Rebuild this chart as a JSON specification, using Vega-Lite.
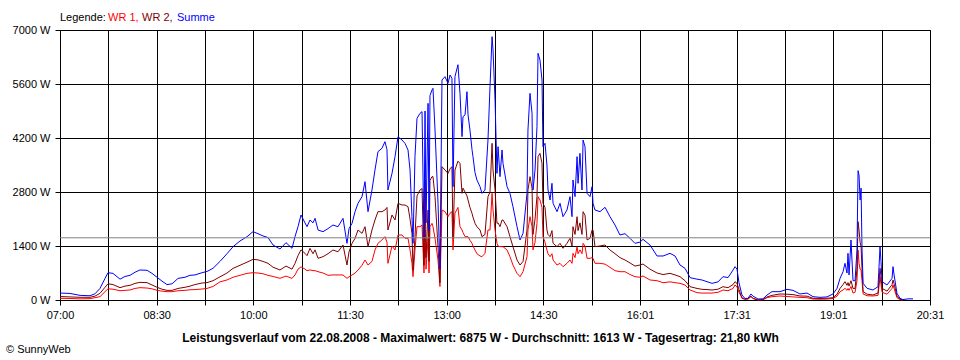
{
  "$schema": "https://vega.github.io/schema/vega-lite/v6.json",
  "width": 870,
  "height": 270,
  "autosize": {"type": "none"},
  "padding": {"left": 60, "top": 30, "right": 30, "bottom": 60},
  "background": "white",
  "config": {
    "view": {"stroke": "black", "strokeWidth": 1},
    "axis": {
      "domainColor": "black",
      "tickColor": "black",
      "gridColor": "black",
      "gridOpacity": 1,
      "gridWidth": 1,
      "labelColor": "black",
      "labelFont": "Liberation Sans",
      "labelFontSize": 11,
      "tickSize": 5,
      "zindex": 1
    },
    "text": {"font": "Liberation Sans", "fontSize": 11}
  },
  "datasets": {
    "power": [
      {"t": 420.0, "wr1": 44, "wr2": 90, "summe": 180},
      {"t": 429.3, "wr1": 40, "wr2": 80, "summe": 170},
      {"t": 438.7, "wr1": 30, "wr2": 70, "summe": 120},
      {"t": 448.0, "wr1": 35, "wr2": 70, "summe": 110},
      {"t": 452.6, "wr1": 60, "wr2": 100, "summe": 160},
      {"t": 457.3, "wr1": 86, "wr2": 173, "summe": 300},
      {"t": 462.0, "wr1": 216, "wr2": 330, "summe": 560},
      {"t": 464.8, "wr1": 290, "wr2": 420, "summe": 708},
      {"t": 469.4, "wr1": 280, "wr2": 400, "summe": 690},
      {"t": 476.0, "wr1": 240, "wr2": 320, "summe": 540},
      {"t": 480.6, "wr1": 250, "wr2": 360, "summe": 610},
      {"t": 485.3, "wr1": 260, "wr2": 380, "summe": 640},
      {"t": 490.0, "wr1": 300, "wr2": 430, "summe": 720},
      {"t": 494.6, "wr1": 320, "wr2": 458, "summe": 778},
      {"t": 501.2, "wr1": 310, "wr2": 450, "summe": 770},
      {"t": 505.8, "wr1": 290, "wr2": 390, "summe": 690},
      {"t": 510.5, "wr1": 250, "wr2": 330, "summe": 590},
      {"t": 515.1, "wr1": 230, "wr2": 280, "summe": 490},
      {"t": 519.8, "wr1": 216, "wr2": 250, "summe": 400},
      {"t": 524.5, "wr1": 216, "wr2": 250, "summe": 420},
      {"t": 530.1, "wr1": 240, "wr2": 300, "summe": 560},
      {"t": 536.6, "wr1": 250, "wr2": 330, "summe": 590},
      {"t": 541.3, "wr1": 265, "wr2": 360, "summe": 640},
      {"t": 545.9, "wr1": 270, "wr2": 400, "summe": 650},
      {"t": 552.5, "wr1": 285, "wr2": 440, "summe": 708},
      {"t": 557.1, "wr1": 300, "wr2": 450, "summe": 740},
      {"t": 562.7, "wr1": 350, "wr2": 500, "summe": 821},
      {"t": 569.2, "wr1": 470, "wr2": 600, "summe": 1000},
      {"t": 575.8, "wr1": 520, "wr2": 700, "summe": 1200},
      {"t": 581.4, "wr1": 590, "wr2": 820, "summe": 1382},
      {"t": 587.9, "wr1": 640, "wr2": 900, "summe": 1530},
      {"t": 594.4, "wr1": 690, "wr2": 980, "summe": 1641},
      {"t": 600.0, "wr1": 708, "wr2": 1054, "summe": 1771},
      {"t": 604.7, "wr1": 700, "wr2": 1040, "summe": 1720},
      {"t": 609.4, "wr1": 680, "wr2": 1000, "summe": 1660},
      {"t": 614.0, "wr1": 640, "wr2": 950, "summe": 1620},
      {"t": 618.7, "wr1": 610, "wr2": 850, "summe": 1426},
      {"t": 625.2, "wr1": 562, "wr2": 778, "summe": 1322},
      {"t": 630.8, "wr1": 620, "wr2": 880, "summe": 1486},
      {"t": 636.4, "wr1": 560, "wr2": 800, "summe": 1340},
      {"t": 639.2, "wr1": 650, "wr2": 950, "summe": 1641},
      {"t": 642.0, "wr1": 800, "wr2": 1150, "summe": 1901},
      {"t": 644.8, "wr1": 860, "wr2": 1300, "summe": 2204},
      {"t": 648.5, "wr1": 800, "wr2": 1210, "summe": 2000},
      {"t": 650.4, "wr1": 760, "wr2": 1150, "summe": 1901},
      {"t": 653.2, "wr1": 780, "wr2": 1340, "summe": 2074},
      {"t": 656.0, "wr1": 760, "wr2": 1200, "summe": 2000},
      {"t": 657.9, "wr1": 760, "wr2": 1300, "summe": 2117},
      {"t": 660.7, "wr1": 734, "wr2": 1080, "summe": 1815},
      {"t": 665.3, "wr1": 700, "wr2": 1123, "summe": 1771},
      {"t": 670.0, "wr1": 640, "wr2": 1200, "summe": 1850},
      {"t": 674.6, "wr1": 650, "wr2": 1296, "summe": 1944},
      {"t": 679.3, "wr1": 650, "wr2": 1250, "summe": 1900},
      {"t": 684.0, "wr1": 648, "wr2": 1426, "summe": 2117},
      {"t": 687.7, "wr1": 562, "wr2": 907, "summe": 1469},
      {"t": 689.6, "wr1": 600, "wr2": 1250, "summe": 1850},
      {"t": 692.4, "wr1": 648, "wr2": 1469, "summe": 1988},
      {"t": 695.2, "wr1": 700, "wr2": 1599, "summe": 2290},
      {"t": 698.0, "wr1": 778, "wr2": 1815, "summe": 2506},
      {"t": 701.7, "wr1": 900, "wr2": 1728, "summe": 2679},
      {"t": 704.5, "wr1": 1037, "wr2": 1900, "summe": 3068},
      {"t": 707.3, "wr1": 907, "wr2": 1383, "summe": 2290},
      {"t": 711.0, "wr1": 1000, "wr2": 1815, "summe": 2852},
      {"t": 713.8, "wr1": 1296, "wr2": 2074, "summe": 3370},
      {"t": 716.6, "wr1": 1469, "wr2": 2290, "summe": 3846},
      {"t": 720.3, "wr1": 1556, "wr2": 2290, "summe": 3932},
      {"t": 723.1, "wr1": 1642, "wr2": 2333, "summe": 4105},
      {"t": 725.0, "wr1": 1500, "wr2": 2400, "summe": 3900},
      {"t": 725.9, "wr1": 950, "wr2": 1815, "summe": 2852},
      {"t": 729.7, "wr1": 1400, "wr2": 2204, "summe": 3284},
      {"t": 732.5, "wr1": 1296, "wr2": 2074, "summe": 3716},
      {"t": 735.3, "wr1": 1685, "wr2": 2506, "summe": 4235},
      {"t": 739.0, "wr1": 1685, "wr2": 2463, "summe": 4148},
      {"t": 741.8, "wr1": 1600, "wr2": 2463, "summe": 4062},
      {"t": 744.6, "wr1": 1600, "wr2": 2420, "summe": 3889},
      {"t": 746.5, "wr1": 1300, "wr2": 2100, "summe": 3370},
      {"t": 748.3, "wr1": 950, "wr2": 1728, "summe": 2160},
      {"t": 749.3, "wr1": 605, "wr2": 778, "summe": 1469},
      {"t": 751.1, "wr1": 1300, "wr2": 1642, "summe": 3716},
      {"t": 753.0, "wr1": 1901, "wr2": 2700, "summe": 4710},
      {"t": 755.8, "wr1": 1901, "wr2": 2852, "summe": 4840},
      {"t": 757.7, "wr1": 1944, "wr2": 2890, "summe": 4883},
      {"t": 759.5, "wr1": 700, "wr2": 900, "summe": 1600},
      {"t": 760.5, "wr1": 1815, "wr2": 3111, "summe": 4900},
      {"t": 761.4, "wr1": 800, "wr2": 1100, "summe": 2000},
      {"t": 763.3, "wr1": 1600, "wr2": 2333, "summe": 5099},
      {"t": 764.2, "wr1": 700, "wr2": 1000, "summe": 1800},
      {"t": 765.1, "wr1": 1900, "wr2": 3100, "summe": 5300},
      {"t": 767.0, "wr1": 1988, "wr2": 3198, "summe": 5445},
      {"t": 767.9, "wr1": 1900, "wr2": 3200, "summe": 5488},
      {"t": 769.8, "wr1": 1600, "wr2": 2679, "summe": 4407},
      {"t": 772.6, "wr1": 1037, "wr2": 1383, "summe": 2506},
      {"t": 774.4, "wr1": 350, "wr2": 450, "summe": 800},
      {"t": 776.3, "wr1": 2333, "wr2": 3457, "summe": 5704},
      {"t": 779.1, "wr1": 2290, "wr2": 3370, "summe": 5790},
      {"t": 781.9, "wr1": 2160, "wr2": 3284, "summe": 5617},
      {"t": 783.8, "wr1": 2250, "wr2": 3400, "summe": 5833},
      {"t": 785.6, "wr1": 2290, "wr2": 3457, "summe": 5750},
      {"t": 786.6, "wr1": 1300, "wr2": 1600, "summe": 2938},
      {"t": 788.4, "wr1": 2250, "wr2": 3370, "summe": 5790},
      {"t": 791.2, "wr1": 2400, "wr2": 3600, "summe": 6100},
      {"t": 793.1, "wr1": 1900, "wr2": 3543, "summe": 5358},
      {"t": 795.0, "wr1": 1815, "wr2": 2765, "summe": 4235},
      {"t": 795.9, "wr1": 1750, "wr2": 2900, "summe": 4753},
      {"t": 797.8, "wr1": 1642, "wr2": 2800, "summe": 4800},
      {"t": 799.6, "wr1": 1642, "wr2": 2700, "summe": 5401},
      {"t": 800.6, "wr1": 1642, "wr2": 2593, "summe": 4800},
      {"t": 802.4, "wr1": 1550, "wr2": 2400, "summe": 4407},
      {"t": 804.3, "wr1": 1469, "wr2": 2247, "summe": 3900},
      {"t": 805.2, "wr1": 1400, "wr2": 2150, "summe": 3716},
      {"t": 807.1, "wr1": 1296, "wr2": 1988, "summe": 3300},
      {"t": 808.9, "wr1": 1200, "wr2": 1900, "summe": 3111},
      {"t": 811.8, "wr1": 1141, "wr2": 1815, "summe": 2938},
      {"t": 813.6, "wr1": 1123, "wr2": 1642, "summe": 2765},
      {"t": 816.4, "wr1": 1210, "wr2": 1700, "summe": 2850},
      {"t": 819.2, "wr1": 1815, "wr2": 2679, "summe": 4148},
      {"t": 821.1, "wr1": 1815, "wr2": 2800, "summe": 5531},
      {"t": 823.0, "wr1": 2765, "wr2": 4062, "summe": 6827},
      {"t": 823.9, "wr1": 2333, "wr2": 3370, "summe": 6482},
      {"t": 825.8, "wr1": 1815, "wr2": 2852, "summe": 5185},
      {"t": 827.6, "wr1": 1469, "wr2": 1988, "summe": 3284},
      {"t": 828.6, "wr1": 1400, "wr2": 2000, "summe": 3975},
      {"t": 830.4, "wr1": 1383, "wr2": 1901, "summe": 3198},
      {"t": 832.3, "wr1": 1383, "wr2": 2074, "summe": 3889},
      {"t": 833.2, "wr1": 1383, "wr2": 2074, "summe": 3543},
      {"t": 837.0, "wr1": 1296, "wr2": 1901, "summe": 2938},
      {"t": 839.7, "wr1": 1123, "wr2": 1642, "summe": 2765},
      {"t": 842.5, "wr1": 907, "wr2": 1383, "summe": 2420},
      {"t": 846.3, "wr1": 691, "wr2": 1037, "summe": 1901},
      {"t": 849.1, "wr1": 605, "wr2": 907, "summe": 1556},
      {"t": 851.9, "wr1": 735, "wr2": 1000, "summe": 1728},
      {"t": 855.6, "wr1": 1123, "wr2": 1815, "summe": 2765},
      {"t": 856.5, "wr1": 1815, "wr2": 2852, "summe": 4407},
      {"t": 858.4, "wr1": 2160, "wr2": 3198, "summe": 5358},
      {"t": 860.3, "wr1": 1900, "wr2": 2900, "summe": 4840},
      {"t": 861.2, "wr1": 1300, "wr2": 1700, "summe": 2852},
      {"t": 863.1, "wr1": 1500, "wr2": 2100, "summe": 3370},
      {"t": 864.9, "wr1": 1988, "wr2": 2679, "summe": 4494},
      {"t": 865.9, "wr1": 2679, "wr2": 3716, "summe": 6395},
      {"t": 867.7, "wr1": 2593, "wr2": 3802, "summe": 6222},
      {"t": 869.6, "wr1": 2400, "wr2": 3543, "summe": 5704},
      {"t": 870.5, "wr1": 1642, "wr2": 2506, "summe": 3975},
      {"t": 872.4, "wr1": 1500, "wr2": 2400, "summe": 4062},
      {"t": 874.2, "wr1": 1296, "wr2": 1815, "summe": 3500},
      {"t": 875.2, "wr1": 1200, "wr2": 1700, "summe": 2852},
      {"t": 877.1, "wr1": 1123, "wr2": 1642, "summe": 2593},
      {"t": 878.9, "wr1": 1200, "wr2": 1800, "summe": 3025},
      {"t": 879.9, "wr1": 1037, "wr2": 1469, "summe": 2506},
      {"t": 883.6, "wr1": 907, "wr2": 1383, "summe": 2290},
      {"t": 886.4, "wr1": 950, "wr2": 1469, "summe": 2506},
      {"t": 889.2, "wr1": 864, "wr2": 1340, "summe": 2160},
      {"t": 892.9, "wr1": 950, "wr2": 1469, "summe": 2333},
      {"t": 895.7, "wr1": 1037, "wr2": 1599, "summe": 2679},
      {"t": 897.6, "wr1": 950, "wr2": 1400, "summe": 2160},
      {"t": 898.5, "wr1": 1210, "wr2": 1901, "summe": 3111},
      {"t": 900.4, "wr1": 1100, "wr2": 1700, "summe": 2679},
      {"t": 902.3, "wr1": 1383, "wr2": 2160, "summe": 3716},
      {"t": 903.2, "wr1": 1200, "wr2": 1800, "summe": 3025},
      {"t": 905.0, "wr1": 1300, "wr2": 2000, "summe": 3802},
      {"t": 906.9, "wr1": 1200, "wr2": 1700, "summe": 2852},
      {"t": 907.9, "wr1": 1469, "wr2": 2290, "summe": 4148},
      {"t": 909.7, "wr1": 1400, "wr2": 2200, "summe": 3975},
      {"t": 911.6, "wr1": 1080, "wr2": 1556, "summe": 2765},
      {"t": 914.4, "wr1": 1080, "wr2": 1600, "summe": 2679},
      {"t": 916.3, "wr1": 1100, "wr2": 1815, "summe": 2938},
      {"t": 917.2, "wr1": 1080, "wr2": 1815, "summe": 2506},
      {"t": 919.0, "wr1": 950, "wr2": 1383, "summe": 2333},
      {"t": 923.7, "wr1": 951, "wr2": 1400, "summe": 2290},
      {"t": 928.4, "wr1": 930, "wr2": 1426, "summe": 2403},
      {"t": 933.0, "wr1": 847, "wr2": 1296, "summe": 2160},
      {"t": 937.7, "wr1": 760, "wr2": 1200, "summe": 1944},
      {"t": 942.3, "wr1": 734, "wr2": 1100, "summe": 1685},
      {"t": 947.0, "wr1": 734, "wr2": 1037, "summe": 1720},
      {"t": 951.7, "wr1": 660, "wr2": 960, "summe": 1599},
      {"t": 956.3, "wr1": 605, "wr2": 880, "summe": 1469},
      {"t": 961.0, "wr1": 590, "wr2": 907, "summe": 1500},
      {"t": 963.8, "wr1": 622, "wr2": 933, "summe": 1573},
      {"t": 970.3, "wr1": 519, "wr2": 800, "summe": 1426},
      {"t": 976.9, "wr1": 500, "wr2": 700, "summe": 1141},
      {"t": 982.5, "wr1": 449, "wr2": 660, "summe": 1141},
      {"t": 989.0, "wr1": 470, "wr2": 691, "summe": 1210},
      {"t": 993.7, "wr1": 450, "wr2": 650, "summe": 1141},
      {"t": 998.3, "wr1": 432, "wr2": 605, "summe": 907},
      {"t": 1003.0, "wr1": 389, "wr2": 500, "summe": 821},
      {"t": 1007.7, "wr1": 259, "wr2": 345, "summe": 579},
      {"t": 1014.2, "wr1": 190, "wr2": 300, "summe": 540},
      {"t": 1018.8, "wr1": 180, "wr2": 277, "summe": 519},
      {"t": 1023.5, "wr1": 180, "wr2": 270, "summe": 475},
      {"t": 1028.2, "wr1": 180, "wr2": 260, "summe": 432},
      {"t": 1033.8, "wr1": 200, "wr2": 280, "summe": 470},
      {"t": 1038.4, "wr1": 259, "wr2": 345, "summe": 605},
      {"t": 1043.1, "wr1": 240, "wr2": 320, "summe": 580},
      {"t": 1047.8, "wr1": 300, "wr2": 400, "summe": 778},
      {"t": 1049.6, "wr1": 389, "wr2": 475, "summe": 864},
      {"t": 1051.5, "wr1": 340, "wr2": 430, "summe": 800},
      {"t": 1053.3, "wr1": 200, "wr2": 277, "summe": 450},
      {"t": 1056.1, "wr1": 60, "wr2": 44, "summe": 130},
      {"t": 1058.9, "wr1": 20, "wr2": 20, "summe": 40},
      {"t": 1061.7, "wr1": 20, "wr2": 40, "summe": 44},
      {"t": 1064.5, "wr1": 86, "wr2": 100, "summe": 156},
      {"t": 1066.4, "wr1": 40, "wr2": 40, "summe": 100},
      {"t": 1071.1, "wr1": 0, "wr2": 0, "summe": 26},
      {"t": 1075.7, "wr1": 10, "wr2": 10, "summe": 30},
      {"t": 1079.5, "wr1": 60, "wr2": 80, "summe": 130},
      {"t": 1084.1, "wr1": 86, "wr2": 120, "summe": 216},
      {"t": 1091.6, "wr1": 104, "wr2": 156, "summe": 216},
      {"t": 1098.1, "wr1": 90, "wr2": 150, "summe": 277},
      {"t": 1103.7, "wr1": 80, "wr2": 140, "summe": 250},
      {"t": 1110.2, "wr1": 69, "wr2": 104, "summe": 156},
      {"t": 1116.8, "wr1": 60, "wr2": 100, "summe": 180},
      {"t": 1122.4, "wr1": 25, "wr2": 44, "summe": 86},
      {"t": 1128.9, "wr1": 20, "wr2": 40, "summe": 69},
      {"t": 1135.4, "wr1": 25, "wr2": 45, "summe": 80},
      {"t": 1141.0, "wr1": 40, "wr2": 60, "summe": 156},
      {"t": 1144.8, "wr1": 100, "wr2": 150, "summe": 302},
      {"t": 1147.6, "wr1": 216, "wr2": 302, "summe": 562},
      {"t": 1150.4, "wr1": 260, "wr2": 400, "summe": 734},
      {"t": 1152.2, "wr1": 302, "wr2": 475, "summe": 951},
      {"t": 1154.1, "wr1": 250, "wr2": 380, "summe": 700},
      {"t": 1155.0, "wr1": 300, "wr2": 450, "summe": 1210},
      {"t": 1156.0, "wr1": 250, "wr2": 360, "summe": 650},
      {"t": 1157.8, "wr1": 350, "wr2": 500, "summe": 1556},
      {"t": 1159.7, "wr1": 180, "wr2": 300, "summe": 500},
      {"t": 1161.6, "wr1": 200, "wr2": 300, "summe": 500},
      {"t": 1163.4, "wr1": 500, "wr2": 800, "summe": 1296},
      {"t": 1164.4, "wr1": 1296, "wr2": 2030, "summe": 3353},
      {"t": 1165.3, "wr1": 951, "wr2": 1815, "summe": 3241},
      {"t": 1166.3, "wr1": 800, "wr2": 1500, "summe": 2593},
      {"t": 1167.2, "wr1": 778, "wr2": 1382, "summe": 2900},
      {"t": 1168.1, "wr1": 500, "wr2": 800, "summe": 1300},
      {"t": 1169.1, "wr1": 156, "wr2": 216, "summe": 432},
      {"t": 1172.8, "wr1": 110, "wr2": 150, "summe": 302},
      {"t": 1178.3, "wr1": 104, "wr2": 130, "summe": 259},
      {"t": 1183.0, "wr1": 120, "wr2": 180, "summe": 345},
      {"t": 1184.9, "wr1": 605, "wr2": 821, "summe": 1382},
      {"t": 1185.8, "wr1": 400, "wr2": 600, "summe": 1000},
      {"t": 1186.8, "wr1": 200, "wr2": 302, "summe": 475},
      {"t": 1191.4, "wr1": 150, "wr2": 230, "summe": 389},
      {"t": 1196.1, "wr1": 300, "wr2": 400, "summe": 562},
      {"t": 1197.0, "wr1": 389, "wr2": 519, "summe": 864},
      {"t": 1198.0, "wr1": 300, "wr2": 420, "summe": 650},
      {"t": 1200.7, "wr1": 60, "wr2": 100, "summe": 173},
      {"t": 1203.5, "wr1": 10, "wr2": 20, "summe": 44},
      {"t": 1206.3, "wr1": 0, "wr2": 0, "summe": 10},
      {"t": 1211.0, "summe": 30},
      {"t": 1215.7, "summe": 30}
    ]
  },
  "layer": [
    {
      "data": {"name": "power"},
      "mark": {"type": "line", "color": "#FF0000", "strokeWidth": 1},
      "encoding": {
        "x": {
          "field": "t",
          "type": "quantitative",
          "scale": {"domain": [420, 1231.5], "nice": false, "zero": false},
          "axis": {
            "values": [420, 465.0833, 510.1667, 555.25, 600.3333, 645.4167, 690.5, 735.5833, 780.6667, 825.75, 870.8333, 915.9167, 961, 1006.0833, 1051.1667, 1096.25, 1141.3333, 1186.4167, 1231.5],
            "grid": true,
            "labelPadding": 4,
            "labelFlush": false,
            "labelOverlap": false,
            "labelExpr": "round((datum.value-420)/45.0833) % 2 == 0 ? (floor(datum.value/60) < 10 ? '0' : '') + floor(datum.value/60) + ':' + (floor(datum.value%60) < 10 ? '0' : '') + floor(datum.value%60) : ''",
            "title": "Leistungsverlauf vom 22.08.2008 - Maximalwert: 6875 W - Durchschnitt: 1613 W - Tagesertrag: 21,80 kWh",
            "titleFont": "Liberation Sans",
            "titleFontSize": 12,
            "titleFontWeight": "bold",
            "titleColor": "black",
            "titleX": 420,
            "titleY": 41,
            "titleBaseline": "alphabetic",
            "titleAlign": "center"
          }
        },
        "y": {
          "field": "wr1",
          "type": "quantitative",
          "scale": {"domain": [0, 7000], "nice": false},
          "axis": {
            "values": [0, 1400, 2800, 4200, 5600, 7000],
            "grid": true,
            "labelPadding": 5,
            "labelExpr": "datum.value + ' W'",
            "title": null
          }
        }
      }
    },
    {
      "data": {"name": "power"},
      "mark": {"type": "line", "color": "#800000", "strokeWidth": 1},
      "encoding": {
        "x": {"field": "t", "type": "quantitative"},
        "y": {"field": "wr2", "type": "quantitative"}
      }
    },
    {
      "data": {"name": "power"},
      "mark": {"type": "line", "color": "#0000FF", "strokeWidth": 1},
      "encoding": {
        "x": {"field": "t", "type": "quantitative"},
        "y": {"field": "summe", "type": "quantitative"}
      }
    },
    {
      "data": {"values": [{"avg": 1613}]},
      "mark": {"type": "rule", "color": "#808080", "strokeWidth": 1},
      "encoding": {
        "y": {"field": "avg", "type": "quantitative"}
      }
    },
    {
      "data": {"values": [{}]},
      "mark": {"type": "text", "text": "Legende:", "align": "left", "baseline": "alphabetic", "color": "black"},
      "encoding": {"x": {"datum": 420, "type": "quantitative"}, "y": {"datum": 7246, "type": "quantitative"}}
    },
    {
      "data": {"values": [{}]},
      "mark": {"type": "text", "text": "WR 1,", "align": "left", "baseline": "alphabetic", "color": "#FF0000"},
      "encoding": {"x": {"datum": 464.8, "type": "quantitative"}, "y": {"datum": 7246, "type": "quantitative"}}
    },
    {
      "data": {"values": [{}]},
      "mark": {"type": "text", "text": "WR 2,", "align": "left", "baseline": "alphabetic", "color": "#800000"},
      "encoding": {"x": {"datum": 496.5, "type": "quantitative"}, "y": {"datum": 7246, "type": "quantitative"}}
    },
    {
      "data": {"values": [{}]},
      "mark": {"type": "text", "text": "Summe", "align": "left", "baseline": "alphabetic", "color": "#0000FF"},
      "encoding": {"x": {"datum": 529.1, "type": "quantitative"}, "y": {"datum": 7246, "type": "quantitative"}}
    },
    {
      "data": {"values": [{}]},
      "mark": {"type": "text", "text": "© SunnyWeb", "align": "left", "baseline": "alphabetic", "color": "black"},
      "encoding": {"x": {"datum": 369.6, "type": "quantitative"}, "y": {"datum": -1374, "type": "quantitative"}}
    }
  ]
}
